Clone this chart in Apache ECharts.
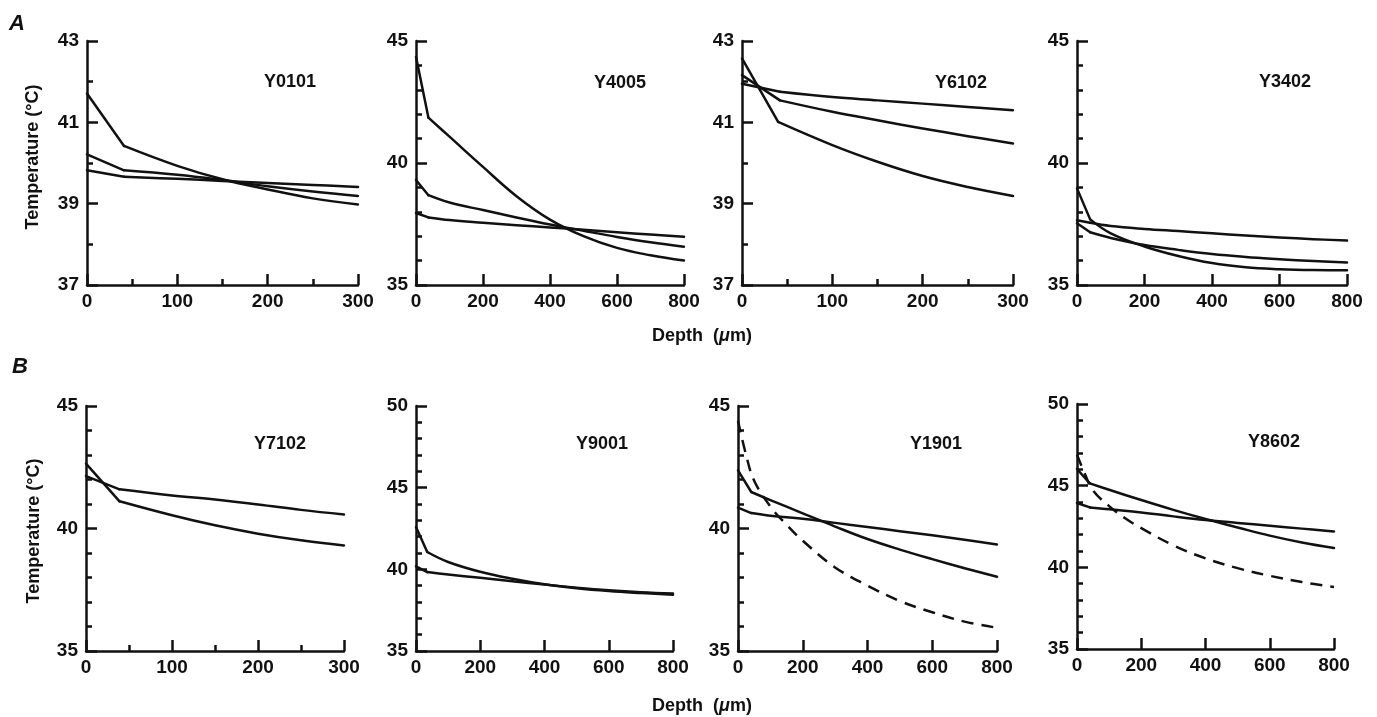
<!DOCTYPE html>
<html>
<head>
<meta charset="utf-8">
<title>Temperature vs depth profiles</title>
<script src="https://cdn.jsdelivr.net/npm/echarts@6/dist/echarts.min.js"></script>
<style>
  html, body { margin: 0; padding: 0; background: #fff; }
  #chart { width: 1377px; height: 717px; }
</style>
</head>
<body>
<div id="chart"></div>
<script>
// Temperature (°C) against tissue depth (µm); each curve is [depth, temperature] pairs.
// Solid curves start with a short straight segment (first two points), then bend smoothly.

// Panel A
const y0101Steep = [[0, 41.71], [41, 40.42], [100, 39.93], [150, 39.60], [200, 39.35], [250, 39.13], [300, 38.98]];
const y0101Mid   = [[0, 40.21], [41, 39.82], [100, 39.71], [150, 39.58], [200, 39.43], [250, 39.30], [300, 39.19]];
const y0101Flat  = [[0, 39.82], [41, 39.66], [100, 39.61], [150, 39.56], [200, 39.51], [250, 39.46], [300, 39.41]];

const y4005Steep = [[0, 44.35], [37, 41.86], [100, 41.08], [200, 39.84], [300, 38.64], [400, 37.68], [500, 37.00], [600, 36.52], [700, 36.22], [800, 36.00]];
const y4005Mid   = [[0, 39.30], [37, 38.68], [100, 38.38], [200, 38.07], [300, 37.77], [400, 37.48], [500, 37.22], [600, 36.97], [700, 36.75], [800, 36.57]];
const y4005Flat  = [[0, 37.95], [37, 37.77], [100, 37.66], [200, 37.55], [300, 37.45], [400, 37.36], [500, 37.26], [600, 37.16], [700, 37.07], [800, 36.98]];

const y6102Steep = [[0, 42.57], [40, 41.01], [100, 40.44], [150, 40.03], [200, 39.68], [250, 39.41], [300, 39.19]];
const y6102Mid   = [[0, 42.16], [42, 41.54], [100, 41.26], [150, 41.05], [200, 40.85], [250, 40.66], [300, 40.48]];
const y6102Flat  = [[0, 41.95], [42, 41.75], [100, 41.62], [150, 41.54], [200, 41.46], [250, 41.38], [300, 41.30]];

const y3402Steep = [[0, 38.96], [39, 37.69], [100, 37.12], [200, 36.58], [300, 36.19], [400, 35.90], [500, 35.73], [600, 35.65], [700, 35.61], [800, 35.60]];
const y3402Mid   = [[0, 37.53], [39, 37.16], [100, 36.93], [200, 36.64], [300, 36.44], [400, 36.27], [500, 36.15], [600, 36.06], [700, 35.98], [800, 35.92]];
const y3402Flat  = [[0, 37.65], [39, 37.55], [100, 37.42], [200, 37.30], [300, 37.21], [400, 37.12], [500, 37.03], [600, 36.95], [700, 36.88], [800, 36.82]];

// Panel B
const y7102Steep = [[0, 42.65], [39, 41.11], [100, 40.54], [150, 40.13], [200, 39.79], [250, 39.52], [300, 39.31]];
const y7102Flat  = [[0, 42.14], [39, 41.60], [100, 41.35], [150, 41.18], [200, 40.98], [250, 40.76], [300, 40.57]];

const y9001Steep = [[0, 42.59], [35, 41.06], [100, 40.45], [200, 39.85], [300, 39.42], [400, 39.08], [500, 38.84], [600, 38.67], [700, 38.55], [800, 38.45]];
const y9001Flat  = [[0, 40.18], [35, 39.83], [100, 39.68], [200, 39.48], [300, 39.27], [400, 39.07], [500, 38.88], [600, 38.72], [700, 38.60], [800, 38.52]];

const y1901Steep  = [[0, 42.37], [41, 41.49], [100, 41.16], [200, 40.62], [300, 40.08], [400, 39.57], [500, 39.14], [600, 38.75], [700, 38.38], [800, 38.03]];
const y1901Flat   = [[0, 40.85], [41, 40.63], [100, 40.52], [200, 40.40], [300, 40.23], [400, 40.06], [500, 39.89], [600, 39.72], [700, 39.54], [800, 39.35]];
const y1901Dashed = [[0, 44.40], [25, 43.00], [50, 41.95], [100, 40.90], [150, 40.15], [200, 39.50], [300, 38.41], [400, 37.67], [500, 37.04], [600, 36.58], [700, 36.20], [800, 35.95]];

const y8602Steep  = [[0, 46.02], [40, 45.14], [100, 44.75], [200, 44.12], [300, 43.52], [400, 42.96], [500, 42.44], [600, 41.94], [700, 41.52], [800, 41.18]];
const y8602Flat   = [[0, 43.94], [40, 43.67], [100, 43.55], [200, 43.36], [300, 43.12], [400, 42.90], [500, 42.72], [600, 42.55], [700, 42.37], [800, 42.20]];
const y8602Dashed = [[0, 46.90], [25, 45.70], [50, 44.70], [100, 43.75], [150, 43.00], [200, 42.40], [300, 41.35], [400, 40.55], [500, 39.95], [600, 39.48], [700, 39.10], [800, 38.80]];

// Axis scales: [min, max, step, minor splits]
const depthShort = [0, 300, 100, 2];
const depthLong  = [0, 800, 200, 1];
const temp37to43 = [37, 43, 2, 2];
const temp35to45 = [35, 45, 5, 5];
const temp35to50 = [35, 50, 5, 5];

const panelLabels = ['A', 'B'];
const panelNames = ['Y0101', 'Y4005', 'Y6102', 'Y3402', 'Y7102', 'Y9001', 'Y1901', 'Y8602'];
const tempAxisName = 'Temperature (°C)';

const panels = [
  { x: depthShort, y: temp37to43, solid: [y0101Steep, y0101Mid, y0101Flat], dashed: [] },
  { x: depthLong,  y: temp35to45, solid: [y4005Steep, y4005Mid, y4005Flat], dashed: [] },
  { x: depthShort, y: temp37to43, solid: [y6102Steep, y6102Mid, y6102Flat], dashed: [] },
  { x: depthLong,  y: temp35to45, solid: [y3402Steep, y3402Mid, y3402Flat], dashed: [] },
  { x: depthShort, y: temp35to45, solid: [y7102Steep, y7102Flat], dashed: [] },
  { x: depthLong,  y: temp35to50, solid: [y9001Steep, y9001Flat], dashed: [] },
  { x: depthLong,  y: temp35to45, solid: [y1901Steep, y1901Flat], dashed: [y1901Dashed] },
  { x: depthLong,  y: temp35to50, solid: [y8602Steep, y8602Flat], dashed: [y8602Dashed] }
];

// Plot-area boxes for the eight panels (px)
const boxes = [
  { left: 87,   top: 41,  width: 271, height: 244 },
  { left: 416,  top: 41,  width: 268, height: 244 },
  { left: 742,  top: 41,  width: 271, height: 244 },
  { left: 1077, top: 41,  width: 270, height: 244 },
  { left: 86,   top: 406, width: 258, height: 245 },
  { left: 416,  top: 406, width: 257, height: 245 },
  { left: 738,  top: 406, width: 259, height: 245 },
  { left: 1077, top: 404, width: 257, height: 245 }
];
const titlePos = [[290, 82], [620, 83], [961, 83], [1285, 82], [280, 444], [602, 444], [936, 444], [1274, 442]];

const INK = '#111';
const FONT = '"Liberation Sans", Arial, Helvetica, sans-serif';
const LW = 2.5;

const grids = [], xAxes = [], yAxes = [], series = [];

function axisCommon(range) {
  return {
    type: 'value',
    min: range[0], max: range[1], interval: range[2],
    axisLine: { show: true, onZero: false, lineStyle: { color: INK, width: LW } },
    axisTick: { show: true, inside: true, length: 11, lineStyle: { color: INK, width: LW } },
    minorTick: { show: range[3] > 1, splitNumber: range[3], length: 6, lineStyle: { color: INK, width: LW } },
    splitLine: { show: false },
    minorSplitLine: { show: false },
    axisLabel: { color: INK, fontSize: 19, fontWeight: 'bold', fontFamily: FONT, showMinLabel: true, showMaxLabel: true }
  };
}

const lineBase = { color: INK, width: LW, cap: 'round', join: 'round' };

panels.forEach((p, i) => {
  grids.push(Object.assign({ containLabel: false }, boxes[i]));
  const xa = axisCommon(p.x);
  xa.gridIndex = i;
  xa.axisLabel.margin = 7;
  xAxes.push(xa);
  const ya = axisCommon(p.y);
  ya.gridIndex = i;
  ya.axisLabel.margin = 8;
  yAxes.push(ya);

  p.solid.forEach(curve => {
    // straight surface segment
    series.push({
      type: 'line', xAxisIndex: i, yAxisIndex: i, data: curve.slice(0, 2),
      symbol: 'none', smooth: false, silent: true, lineStyle: lineBase
    });
    // smooth decay below the surface layer
    series.push({
      type: 'line', xAxisIndex: i, yAxisIndex: i, data: curve.slice(1),
      symbol: 'none', smooth: 0.4, silent: true, lineStyle: lineBase
    });
  });
  p.dashed.forEach(curve => {
    series.push({
      type: 'line', xAxisIndex: i, yAxisIndex: i, data: curve,
      symbol: 'none', smooth: 0.4, silent: true,
      lineStyle: { color: INK, width: LW, type: [12, 8] }
    });
  });
});

const textFont = 'bold 18px ' + FONT;
const graphics = [];
panelNames.forEach((name, i) => {
  graphics.push({
    type: 'text', x: titlePos[i][0], y: titlePos[i][1], silent: true,
    style: { text: name, fill: INK, font: textFont, textAlign: 'center', textVerticalAlign: 'middle' }
  });
});
[[17, 24], [20, 367]].forEach((pos, r) => {
  graphics.push({
    type: 'text', x: pos[0], y: pos[1], silent: true,
    style: { text: panelLabels[r], fill: INK, font: 'italic bold 22px ' + FONT, textAlign: 'center', textVerticalAlign: 'middle' }
  });
});
[[33, 157], [34, 531]].forEach(pos => {
  graphics.push({
    type: 'text', x: pos[0], y: pos[1], rotation: Math.PI / 2, silent: true,
    style: { text: tempAxisName, fill: INK, font: textFont, textAlign: 'center', textVerticalAlign: 'middle' }
  });
});
// depth axis title, with an italic mu
[[702, 336], [702, 706]].forEach(pos => {
  graphics.push({
    type: 'text', x: pos[0], y: pos[1], silent: true,
    style: {
      text: '{n|Depth  (}{m|\u03bc}{n|m)}',
      textAlign: 'center', textVerticalAlign: 'middle',
      rich: {
        n: { fill: INK, font: textFont },
        m: { fill: INK, font: 'italic bold 18px ' + FONT }
      }
    }
  });
});

const chart = echarts.init(document.getElementById('chart'), null, { renderer: 'canvas' });
chart.setOption({
  backgroundColor: '#fff',
  animation: false,
  grid: grids,
  xAxis: xAxes,
  yAxis: yAxes,
  series: series,
  graphic: graphics
});
</script>
</body>
</html>
